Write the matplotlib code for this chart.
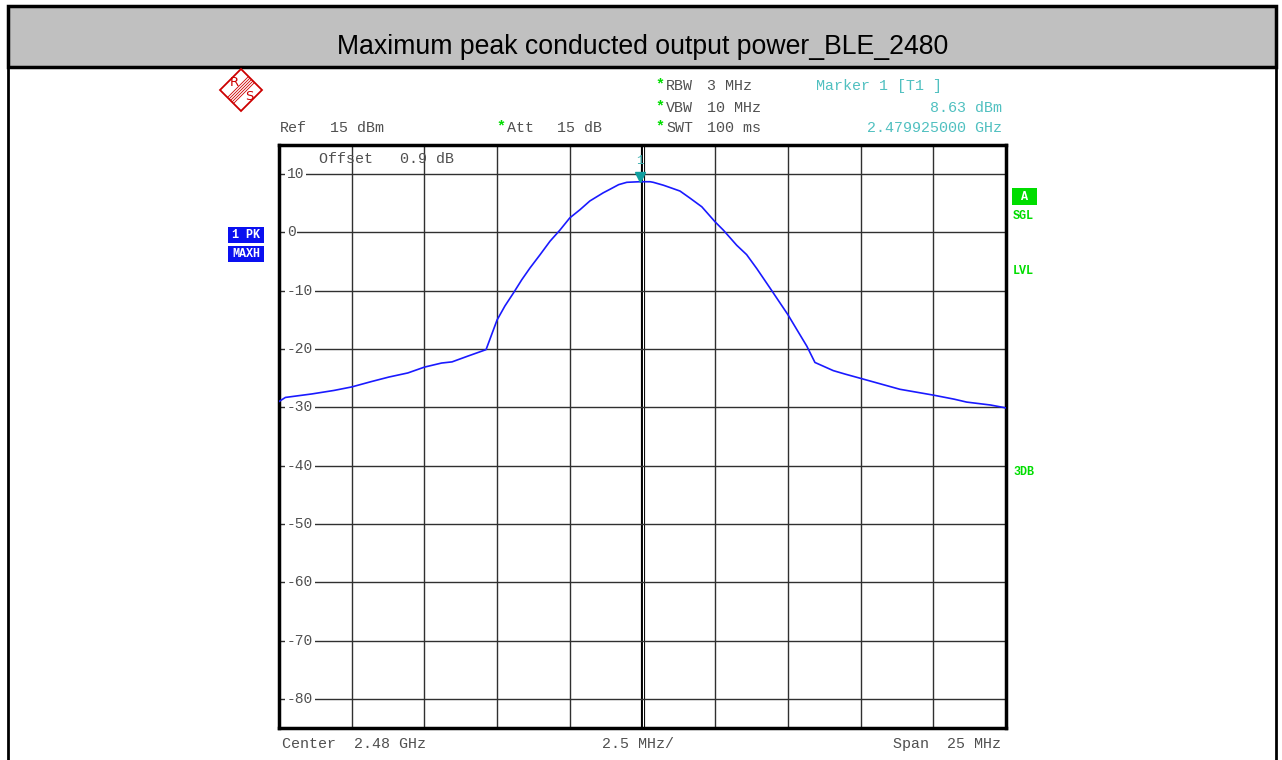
import matplotlib
matplotlib.use("Agg")
import matplotlib.pyplot as plt
from matplotlib.patches import Rectangle, Polygon

# Spectrum analyzer trace
freq_mhz = [2467.5, 2467.72, 2468.63, 2469.39, 2470.0, 2470.66, 2471.28, 2471.93,
            2472.5, 2473.09, 2473.45, 2474.00, 2474.62, 2475.0, 2475.27, 2475.56,
            2475.85, 2476.13, 2476.48, 2476.82, 2477.16, 2477.5, 2477.85, 2478.19,
            2478.65, 2478.88, 2479.18, 2479.46, 2479.68, 2479.91, 2480.26, 2480.37,
            2480.72, 2480.95, 2481.29, 2481.63, 2482.04, 2482.5, 2482.78, 2483.01,
            2483.24, 2483.58, 2483.93, 2484.38, 2484.73, 2485.0, 2485.30, 2485.65,
            2485.93, 2486.56, 2486.97, 2487.48, 2488.85, 2490.0, 2490.72, 2491.15,
            2491.97, 2492.5]
level_dbm = [-29.0, -28.3, -27.7, -27.1, -26.5, -25.6, -24.8, -24.1,
             -23.1, -22.4, -22.2, -21.2, -20.1, -15.0, -12.6, -10.4,
             -8.1, -6.1, -3.8, -1.5, 0.4, 2.5, 3.9, 5.4,
             6.8, 7.4, 8.2, 8.6, 8.65, 8.7, 8.7, 8.6,
             8.1, 7.7, 7.1, 5.9, 4.4, 1.8, 0.4, -0.9,
             -2.2, -3.8, -6.2, -9.5, -12.1, -14.1, -16.6, -19.5,
             -22.3, -23.7, -24.3, -25.0, -26.9, -27.9, -28.6, -29.1,
             -29.6, -30.1]

marker_freq = 2479.925
marker_level = 8.63
center_mhz = 2480.0
span_mhz = 25.0
ref_level = 15
y_ticks = [10, 0, -10, -20, -30, -40, -50, -60, -70, -80]

W, H = 1282, 760
MONO = "Liberation Mono"
GREY_TXT = "#505050"
CYAN = "#50c0c0"
GREEN = "#00dd00"
BLUE = "#0a10f0"

fig = plt.figure(figsize=(W / 100, H / 100), dpi=100)

# overlay in pixel coordinates for the instrument decorations
deco = fig.add_axes([0, 0, 1, 1], zorder=0)
deco.set_xlim(0, W)
deco.set_ylim(H, 0)
deco.axis("off")

# title bar + outer frame
deco.add_patch(Rectangle((8, 6), 1268, 61, facecolor="#c0c0c0", edgecolor="black", lw=2.5))
deco.plot([8, 8], [67, H], color="black", lw=2)
deco.plot([1276, 1276], [67, H], color="black", lw=2)
deco.text(643, 47, "Maximum peak conducted output power_BLE_2480", ha="center", va="center",
          family="Liberation Sans", fontsize=19.2, color="black")

# R&S logo
deco.add_patch(Polygon([(241, 69), (262, 90), (241, 111), (220, 90)], closed=True,
                       fill=False, edgecolor="#cc0000", lw=1.3))
for d in [-3, -1.5, 0, 1.5, 3]:
    deco.plot([251 + d, 231 + d], [80 + d, 100 + d], color="#cc0000", lw=0.6)
deco.text(234, 83, "R", ha="center", va="center", color="#cc0000", fontsize=9.5, family="DejaVu Sans")
deco.text(249, 97, "S", ha="center", va="center", color="#cc0000", fontsize=9.5, family="DejaVu Sans")


def mono(x, y, s, color=GREY_TXT, ha="left", size=10.8, **kw):
    deco.text(x, y, s, ha=ha, va="center", family=MONO, fontsize=size, color=color, **kw)


# header settings
mono(280, 128, "Ref")
mono(330, 128, "15 dBm")
mono(496, 126, "*", color=GREEN, fontweight="bold")
mono(507, 128, "Att")
mono(557, 128, "15 dB")
for yy, lab, val in [(86, "RBW", "3 MHz"), (108, "VBW", "10 MHz"), (128, "SWT", "100 ms")]:
    mono(655, yy - 2, "*", color=GREEN, fontweight="bold")
    mono(666, yy, lab)
    mono(707, yy, val)
mono(816, 86, "Marker 1 [T1 ]", color=CYAN)
mono(1002, 108, "8.63 dBm", color=CYAN, ha="right")
mono(1002, 128, "2.479925000 GHz", color=CYAN, ha="right")

# footer
mono(282, 744, "Center  2.48 GHz")
mono(602, 744, "2.5 MHz/")
mono(1001, 744, "Span  25 MHz", ha="right")

# trace info boxes (left)
for yy, s in [(235, "1 PK"), (254, "MAXH")]:
    deco.add_patch(Rectangle((228, yy - 8), 36, 16, facecolor=BLUE, edgecolor="none"))
    deco.text(246, yy, s, ha="center", va="center", family=MONO, fontsize=8.5,
              fontweight="bold", color="white")

# right side status
deco.add_patch(Rectangle((1012, 188), 25, 17, facecolor=GREEN, edgecolor="none"))
deco.text(1024.5, 197, "A", ha="center", va="center", family=MONO, fontsize=8.5,
          fontweight="bold", color="white")
for yy, s in [(216, "SGL"), (271, "LVL"), (472, "3DB")]:
    deco.text(1013, yy, s, ha="left", va="center", family=MONO, fontsize=8.5,
              fontweight="bold", color=GREEN)

# main diagram
ax = fig.add_axes([279 / W, 1 - 728 / H, 727 / W, 583 / H], zorder=2)
ax.set_xlim(center_mhz - span_mhz / 2, center_mhz + span_mhz / 2)
ax.set_ylim(ref_level - 100, ref_level)
ax.set_xticks([])
ax.set_yticks([])
for sp in ax.spines.values():
    sp.set_linewidth(2.5)
    sp.set_color("black")

step = span_mhz / 10
for k in range(1, 10):
    xv = center_mhz - span_mhz / 2 + k * step
    if k == 5:
        ax.axvline(xv, color="black", lw=3, zorder=1)
        ax.axvline(xv, color="white", lw=0.8, zorder=1)
    else:
        ax.axvline(xv, color="#303030", lw=1, zorder=1)
for yv in y_ticks:
    ax.axhline(yv, color="#303030", lw=1, zorder=1)
    ax.text(0.011, yv, "%d" % yv, transform=ax.get_yaxis_transform(), ha="left", va="center",
            family=MONO, fontsize=10.5, color=GREY_TXT, zorder=2,
            bbox=dict(facecolor="white", edgecolor="none", pad=1.2))

ax.text(0.055, 0.976, "Offset   0.9 dB", transform=ax.transAxes, ha="left", va="center",
        family=MONO, fontsize=10.8, color=GREY_TXT)

ax.plot(freq_mhz, level_dbm, color="#1a1aff", lw=1.2, zorder=3)

# marker 1
ax.plot([marker_freq], [marker_level + 0.9], marker="v", color="#10a0a0", markersize=7,
        linestyle="none", zorder=4)
ax.text(marker_freq, marker_level + 3.6, "1", ha="center", va="center", family=MONO,
        fontsize=9, color="#40b0b0", zorder=4)

fig.savefig("out.png", dpi=100)
